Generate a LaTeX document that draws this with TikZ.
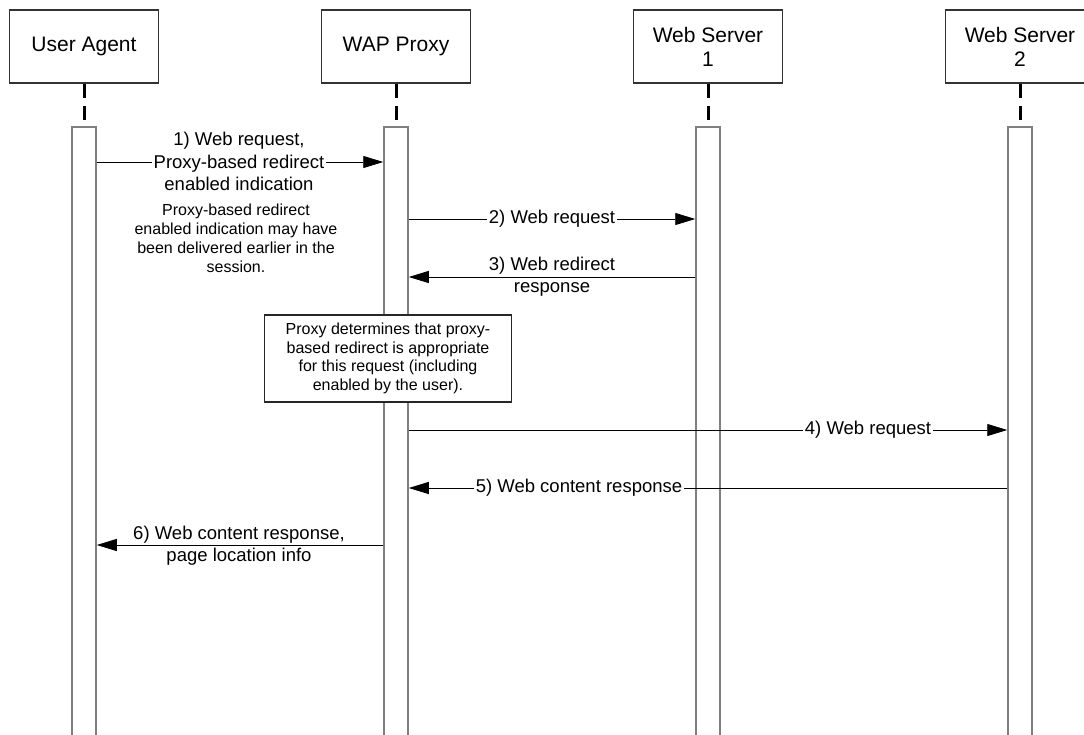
\documentclass[tikz,border=0pt]{standalone}
\usepackage{fontspec}
\setmainfont{Liberation Sans}
\usetikzlibrary{arrows.meta}
\begin{document}
\begin{tikzpicture}[x=1pt,y=-1pt,
  head/.style={draw=black!80,line width=1.2pt,fill=white,minimum width=149pt,minimum height=73pt,align=center,inner sep=0pt,font=\fontsize{21}{24}\selectfont},
  life/.style={line width=3pt,dash pattern=on 14pt off 8pt},
  bar/.style={draw=black!50,line width=1.5pt,fill=white,minimum width=24pt,minimum height=640pt,anchor=north,inner sep=0pt},
  msg/.style={line width=0.9pt,-{Triangle[length=20pt,width=12pt]}},
  lbl/.style={align=center,inner sep=1.5pt,font=\fontsize{18.5}{22.5}\selectfont},
  note/.style={align=center,inner sep=0pt,font=\fontsize{16}{19}\selectfont},
  proc/.style={draw=black!85,line width=1.3pt,fill=white,minimum width=247pt,minimum height=87pt,align=center,inner sep=0pt,font=\fontsize{16}{18.6}\selectfont}]
\useasboundingbox (0,0) rectangle (1084,734);
\clip (0,0) rectangle (1084,734);
\fill[white] (0,0) rectangle (1084,734);
% headers
\node[head] (ua) at (84,46.5) {User Agent};
\node[head] (wap) at (396,46.5) {WAP Proxy};
\node[head] (ws1) at (708,46.5) {Web Server\\1};
\node[head] (ws2) at (1020,46.5) {Web Server\\2};
% lifeline ends
\coordinate (uae) at (84,122);
\coordinate (wape) at (396,122);
\coordinate (ws1e) at (708,122);
\coordinate (ws2e) at (1020,122);
\draw[life] (ua.south) -- (uae);
\draw[life] (wap.south) -- (wape);
\draw[life] (ws1.south) -- (ws1e);
\draw[life] (ws2.south) -- (ws2e);
% activation bars
\node[bar] (uab) at (84,126) {};
\node[bar] (wapb) at (396,126) {};
\node[bar] (ws1b) at (708,126) {};
\node[bar] (ws2b) at (1020,126) {};
% message rows
\coordinate (y1) at (0,162);
\coordinate (y2) at (0,219);
\coordinate (y3) at (0,277);
\coordinate (y4) at (0,430);
\coordinate (y5) at (0,488);
\coordinate (y6) at (0,545);
% 1
\draw[msg] (uab.east |- y1) -- (wapb.west |- y1);
\node[lbl,fill=white] (l1) at (239,161.5) {1) Web request,\\Proxy-based redirect\\enabled indication};
\node[note] (n1) at (236,238) {Proxy-based redirect\\enabled indication may have\\been delivered earlier in the\\session.};
% 2
\draw[msg] (wapb.east |- y2) -- (ws1b.west |- y2);
\node[lbl,fill=white] (l2) at (552,219) {2) Web request};
% 3
\draw[msg] (ws1b.west |- y3) -- (wapb.east |- y3);
\node[lbl] (l3) at (552,276.5) {3) Web redirect\\response};
% process box
\node[proc] (pb) at (388,358.5) {Proxy determines that proxy-\\based redirect is appropriate\\for this request (including\\enabled by the user).};
% 4
\draw[msg] (wapb.east |- y4) -- (ws2b.west |- y4);
\node[lbl,fill=white] (l4) at (868,430) {4) Web request};
% 5
\draw[msg] (ws2b.west |- y5) -- (wapb.east |- y5);
\node[lbl,fill=white] (l5) at (579,488) {5) Web content response};
% 6
\draw[msg] (wapb.west |- y6) -- (uab.east |- y6);
\node[lbl] (l6) at (239,545.5) {6) Web content response,\\page location info};
\end{tikzpicture}
\end{document}
